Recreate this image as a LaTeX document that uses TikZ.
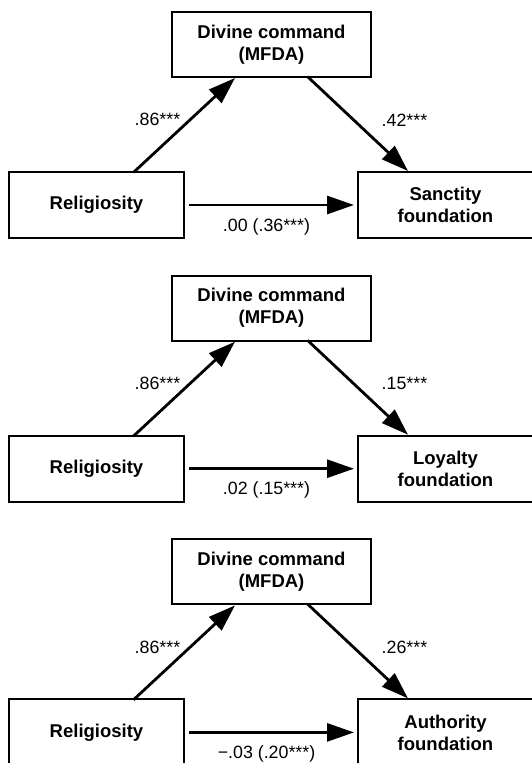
\documentclass[tikz,border=0pt]{standalone}
\usepackage{fontspec}
\setmainfont{Liberation Sans}
\usetikzlibrary{arrows.meta}
\tikzset{
  box/.style={draw, line width=2pt, minimum width=175pt, minimum height=66pt,
    inner sep=0pt, align=center, font=\fontsize{18.5}{22}\selectfont\bfseries},
  topbox/.style={box, minimum width=199pt, minimum height=65pt},
  patharrow/.style={line width=2.8pt, -{Triangle[length=27pt,width=18pt]}},
  coef/.style={font=\fontsize{17.8}{21}\selectfont, inner sep=0pt},
}
\begin{document}
\begin{tikzpicture}[x=1pt,y=-1pt]
\useasboundingbox (0,0) rectangle (531,763);
\foreach \i/\outc/\bval/\cval in {%
  0/{Sanctity\\foundation}/{.42***}/{.00 (.36***)},%
  1/{Loyalty\\foundation}/{.15***}/{.02 (.15***)},%
  2/{Authority\\foundation}/{.26***}/{−.03 (.20***)}} {
  \pgfmathsetmacro{\dy}{263.7*\i}
  \node[topbox] (t\i) at (271.5, 44.5+\dy) {Divine command\\(MFDA)};
  \node[box] (l\i) at (96.5, 205+\dy) {Religiosity};
  \node[box] (r\i) at (445.5, 205+\dy) {\outc};
  \draw[patharrow, shorten <=-2pt] ([xshift=38.5pt]l\i.north) -- ([xshift=-36.5pt]t\i.south);
  \draw[patharrow, shorten <=-2pt] ([xshift=37.5pt]t\i.south) -- ([xshift=-37.5pt]r\i.north);
  \draw[patharrow, shorten <=4pt, shorten >=3pt] (l\i.east) -- (r\i.west);
  \node[coef] (a\i) at (157.5, 119.5+\dy) {.86***};
  \node[coef] (b\i) at (404.5, 120+\dy) {\bval};
  \node[coef] (c\i) at (266.5, 226.5+\dy) {\cval};
}
\end{tikzpicture}
\end{document}
